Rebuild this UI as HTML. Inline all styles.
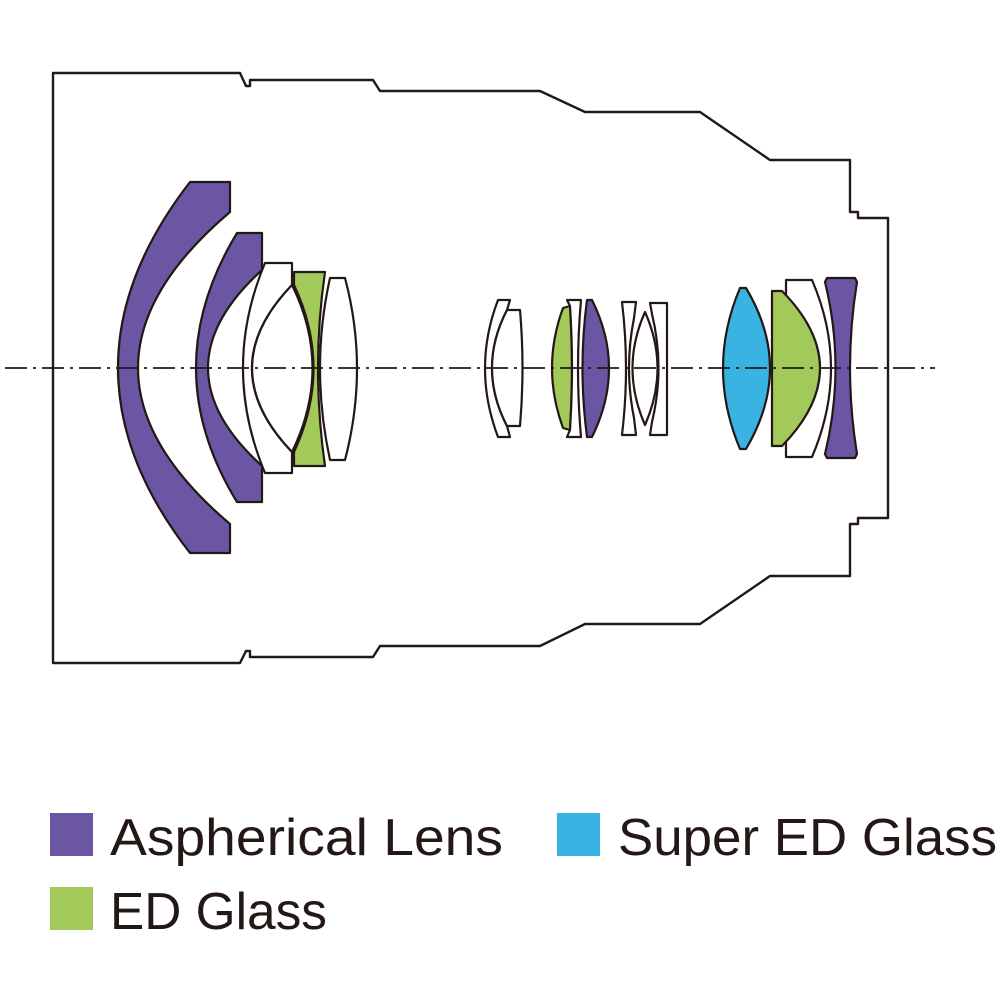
<!DOCTYPE html>
<html><head><meta charset="utf-8"><style>
html,body{margin:0;padding:0;background:#fff;}
svg{display:block;}
</style></head><body>
<svg width="1000" height="1000" viewBox="0 0 1000 1000" xmlns="http://www.w3.org/2000/svg">
<g fill="none" stroke="#231815" stroke-width="2.4" stroke-linejoin="round">
<path d="M53,73 H240 L246,86 H250 V80 H373 L380,91 H540 L585,112 H700 L770,160 H850 V212 H858 V218 H888 V518 H858 V524 H850 V576 H770 L700,624 H585 L540,646 H380 L373,657 H250 V651 H246 L240,663 H53 Z"/>
</g>
<g stroke="#231815" stroke-width="2.2" stroke-linejoin="round">
<path fill="#6a56a2" d="M190,182 H230 V212 Q46,368 230,524 V553 H190 Q46,368 190,182 Z"/>
<path fill="#6a56a2" d="M237,233 H262 V270 Q154,368 262,466 V502 H237 Q155,368 237,233 Z"/>
<path fill="#fff" d="M265,263 H292 V285 Q212,368 292,452 V473 H265 Q221,368 265,263 Z"/>
<path fill="#fff" d="M292,285 Q212,368 292,452 Q333,368 292,285 Z"/>
<path fill="#a3c95a" d="M294,272 H325 Q311,368 325,466 H294 V452 Q333,368 294,285 Z"/>
<path fill="#fff" d="M330,278 H345 Q369,368 345,460 H330 Q310,368 330,278 Z"/>
<path fill="#fff" d="M498,300 H510 L507,310 Q477,368 507,426 L510,437 H498 Q472,368 498,300 Z"/>
<path fill="#fff" d="M507,310 H520 Q525,368 520,426 H507 Q477,368 507,310 Z"/>
<path fill="#a3c95a" d="M563,308 L570,306 Q574,368 570,430 L563,428 Q541,368 563,308 Z"/>
<path fill="#fff" d="M567,300 H581 Q575,368 581,437 H567 L570,430 Q574,368 570,306 Z"/>
<path fill="#6a56a2" d="M587,300 H592 Q626,368 592,437 H587 Q578,368 587,300 Z"/>
<path fill="#fff" d="M622,302 H636 L634,318 Q624,368 634,418 L636,435 H622 Q630,368 622,302 Z"/>
<path fill="#fff" d="M650,303 H667 V435 H650 L652,422 Q665,368 652,314 Z"/>
<path fill="#fff" d="M645,312 Q620,368 645,425 Q670,368 645,312 Z"/>
<path fill="#38b3e2" d="M740,288 H746 Q794,368 746,449 H740 Q706,368 740,288 Z"/>
<path fill="#fff" d="M786,280 H812 Q850,368 812,457 H786 Z"/>
<path fill="#a3c95a" d="M772,291 H782 Q858,368 782,446 H772 Z"/>
<path fill="#6a56a2" d="M827,278 H855 L857,282 Q843,368 857,454 L855,458 H827 L825,454 Q846,368 825,282 Z"/>
</g>
<line x1="5" y1="368" x2="935" y2="368" stroke="#231815" stroke-width="1.8" stroke-dasharray="22,6,3,6"/>
<g font-family="Liberation Sans, sans-serif" font-size="52" fill="#231815">
<rect x="50" y="813" width="43" height="43" fill="#6a56a2"/>
<text x="110" y="855" textLength="393" lengthAdjust="spacingAndGlyphs">Aspherical Lens</text>
<rect x="557" y="813" width="43" height="43" fill="#38b3e2"/>
<text x="618" y="855" textLength="379" lengthAdjust="spacingAndGlyphs">Super ED Glass</text>
<rect x="50" y="887" width="43" height="43" fill="#a3c95a"/>
<text x="110" y="929" textLength="217" lengthAdjust="spacingAndGlyphs">ED Glass</text>
</g>
</svg>
</body></html>
